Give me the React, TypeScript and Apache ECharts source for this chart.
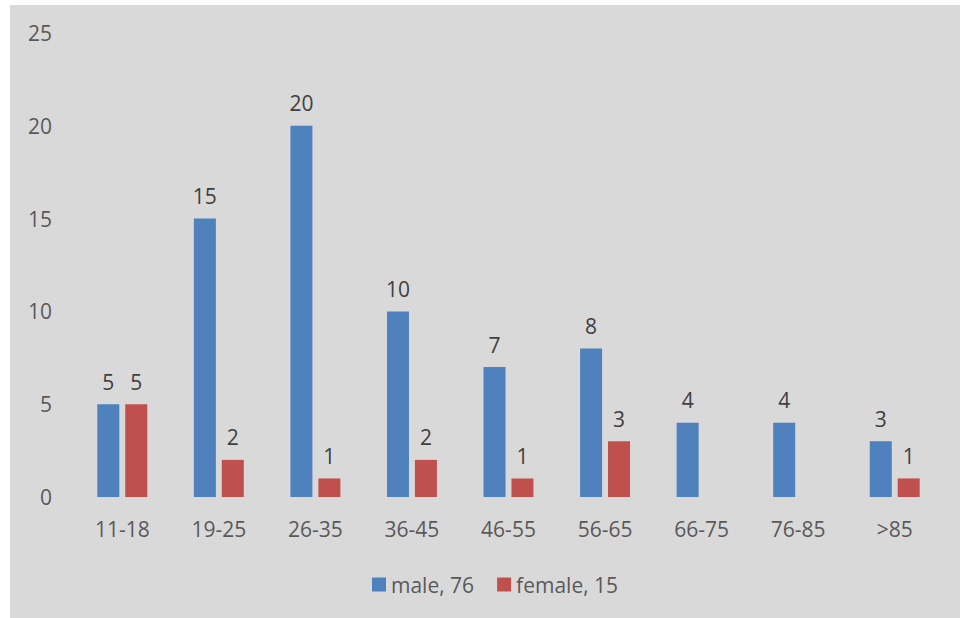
import React, { useEffect, useRef } from "react";
import * as echarts from "echarts";

const categories = ["11-18", "19-25", "26-35", "36-45", "46-55", "56-65", "66-75", "76-85", ">85"];
const maleValues = [5, 15, 20, 10, 7, 8, 4, 4, 3];
const femaleValues = [5, 2, 1, 2, 1, 3, 0, 0, 1];
const maleName = "male, 76";
const femaleName = "female, 15";
const yTicks = { min: 0, max: 25, interval: 5 };

const FONT = "'Open Sans', 'Noto Sans', sans-serif";
const BLUE = "#4f81bd";
const RED = "#c0504d";
const FS = 21;

export default function App() {
  const ref = useRef<HTMLDivElement>(null);
  useEffect(() => {
    if (!ref.current) return;
    const chart = echarts.init(ref.current, null, { renderer: "svg" });
    const labelCfg = {
      show: true,
      position: "top",
      distance: 12,
      color: "#404040",
      fontSize: FS,
      fontFamily: FONT,
      formatter: (p: any) => (p.value ? String(p.value) : ""),
    };
    chart.setOption({
      animation: false,
      backgroundColor: "#ffffff",
      graphic: [
        {
          type: "rect",
          left: 10,
          top: 5,
          z: -10,
          shape: { width: 950, height: 613 },
          style: { fill: "#d9d9d9" },
        },
      ],
      grid: { left: 74, right: 18, top: 33, bottom: 121, containLabel: false },
      legend: {
        data: [maleName, femaleName],
        left: 367,
        top: 569,
        itemWidth: 14,
        itemHeight: 14,
        itemGap: 23,
        icon: "rect",
        textStyle: { color: "#595959", fontSize: FS, fontFamily: FONT, padding: [0, 0, 0, 0] },
      },
      xAxis: {
        type: "category",
        data: categories,
        axisLine: { show: false },
        axisTick: { show: false },
        axisLabel: { color: "#595959", fontSize: FS, fontFamily: FONT, margin: 21 },
      },
      yAxis: {
        type: "value",
        min: yTicks.min,
        max: yTicks.max,
        interval: yTicks.interval,
        splitLine: { show: false },
        axisLine: { show: false },
        axisTick: { show: false },
        axisLabel: { color: "#595959", fontSize: FS, fontFamily: FONT, margin: 22 },
      },
      series: [
        {
          name: maleName,
          type: "bar",
          data: maleValues,
          barWidth: 22,
          barGap: "27%",
          itemStyle: { color: BLUE },
          label: labelCfg,
        },
        {
          name: femaleName,
          type: "bar",
          data: femaleValues,
          barWidth: 22,
          itemStyle: { color: RED },
          label: labelCfg,
        },
      ],
    });
    return () => chart.dispose();
  }, []);
  return (
    <div
      ref={ref}
      style={{ position: "absolute", left: 0, top: 0, width: 961, height: 618 }}
    />
  );
}
